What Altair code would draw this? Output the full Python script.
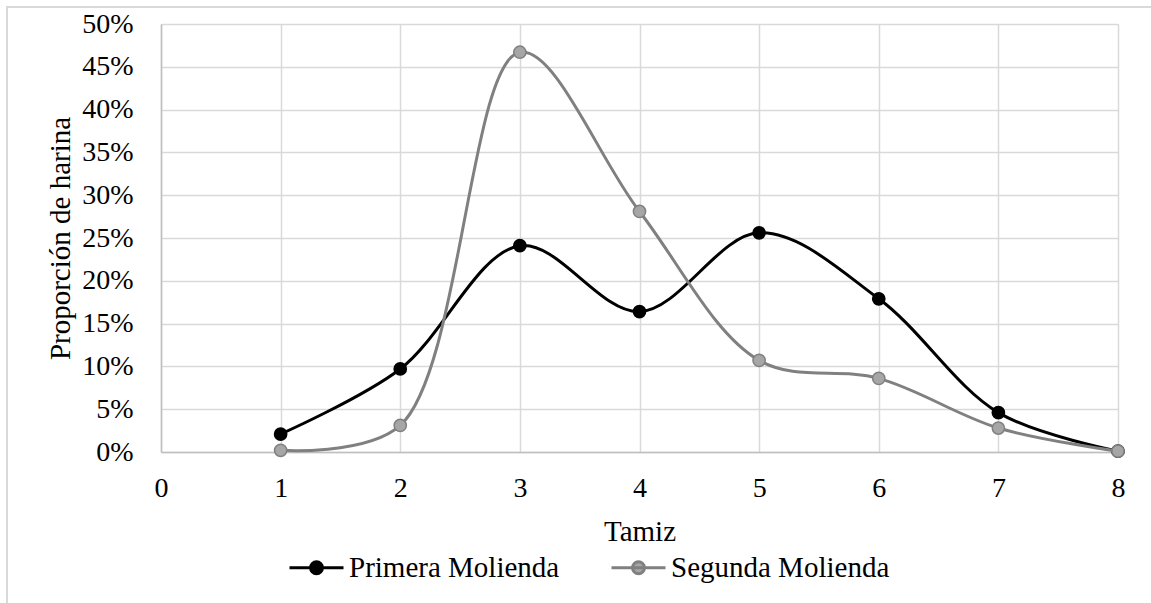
import altair as alt
import pandas as pd

tamiz = [1, 2, 3, 4, 5, 6, 7, 8]
primera = [0.021, 0.097, 0.241, 0.164, 0.256, 0.179, 0.046, 0.001]
segunda = [0.002, 0.031, 0.467, 0.281, 0.107, 0.086, 0.028, 0.001]
series = ["Primera Molienda", "Segunda Molienda"]
line_colors = ["#000000", "#808080"]
fill_colors = ["#000000", "#A6A6A6"]
x_ticks = [0, 1, 2, 3, 4, 5, 6, 7, 8]
y_ticks = [0, 0.05, 0.10, 0.15, 0.20, 0.25, 0.30, 0.35, 0.40, 0.45, 0.50]

df = pd.DataFrame({
    "tamiz": tamiz * 2,
    "valor": primera + segunda,
    "serie": [series[0]] * len(tamiz) + [series[1]] * len(tamiz),
})

FONT = "Liberation Serif"
symbol_path = "M-1,0H1M-0.22,0A0.22,0.22 0 1,0 0.22,0A0.22,0.22 0 1,0 -0.22,0Z"

legend = alt.Legend(
    title=None, orient="none", legendX=127, legendY=515, direction="horizontal",
    columns=2, columnPadding=45, labelOffset=4, labelFont=FONT, labelFontSize=29,
    labelColor="#000000", labelLimit=0, symbolType=symbol_path, symbolSize=2916,
    symbolStrokeWidth=3, labelBaseline="middle",
)

x_enc = alt.X(
    "tamiz:Q",
    scale=alt.Scale(domain=[0, 8], nice=False, zero=False),
    axis=alt.Axis(
        title="Tamiz", values=x_ticks, format="d", grid=True, gridColor="#D9D9D9",
        gridWidth=1.5, domainColor="#BFBFBF", domainWidth=1.5, ticks=False, tickSize=0,
        labelFont=FONT, labelFontSize=28, labelColor="#000000", labelPadding=22,
        titleFont=FONT, titleFontSize=29, titleFontWeight="normal", titleColor="#000000",
        titleY=88, titleBaseline="alphabetic", labelFlush=False,
    ),
)
y_enc = alt.Y(
    "valor:Q",
    scale=alt.Scale(domain=[0, 0.5], nice=False),
    axis=alt.Axis(
        title="Proporción de harina", values=y_ticks, format=".0%", grid=True,
        gridColor="#D9D9D9", gridWidth=1.5, domainColor="#BFBFBF", domainWidth=1.5,
        ticks=False, tickSize=0, labelFont=FONT, labelFontSize=28, labelColor="#000000",
        labelPadding=28, titleFont=FONT, titleFontSize=29, titleFontWeight="normal",
        titleColor="#000000", titleX=-101, titleBaseline="middle", labelFlush=False,
    ),
)
stroke_enc = alt.Stroke("serie:N", scale=alt.Scale(domain=series, range=line_colors), legend=legend)
fill_enc = alt.Fill("serie:N", scale=alt.Scale(domain=series, range=fill_colors), legend=legend)

layers = []
for s in series:
    base = alt.Chart(df).transform_filter(alt.datum.serie == s)
    ln = base.mark_line(interpolate="catmull-rom", strokeWidth=3).encode(
        x=x_enc, y=y_enc, stroke=stroke_enc
    )
    pt = base.mark_point(filled=True, size=150, strokeWidth=1.5, opacity=1).encode(
        x=x_enc, y=y_enc, stroke=stroke_enc, fill=fill_enc
    )
    layers += [ln, pt]

frame = alt.Chart(df).mark_rect(fill=None, stroke="#D9D9D9", strokeWidth=1.5).encode(
    x=alt.value(-154), x2=alt.value(1010), y=alt.value(-17), y2=alt.value(600)
)

chart = alt.layer(frame, *layers).properties(
    width=957, height=428,
    autosize=alt.AutoSizeParams(type="none"),
    padding={"left": 161, "top": 24, "right": 33, "bottom": 151},
    background="white",
).configure_view(stroke=None).configure(font=FONT)

chart.save("out.html", embed_options={"renderer": "svg", "actions": False})
